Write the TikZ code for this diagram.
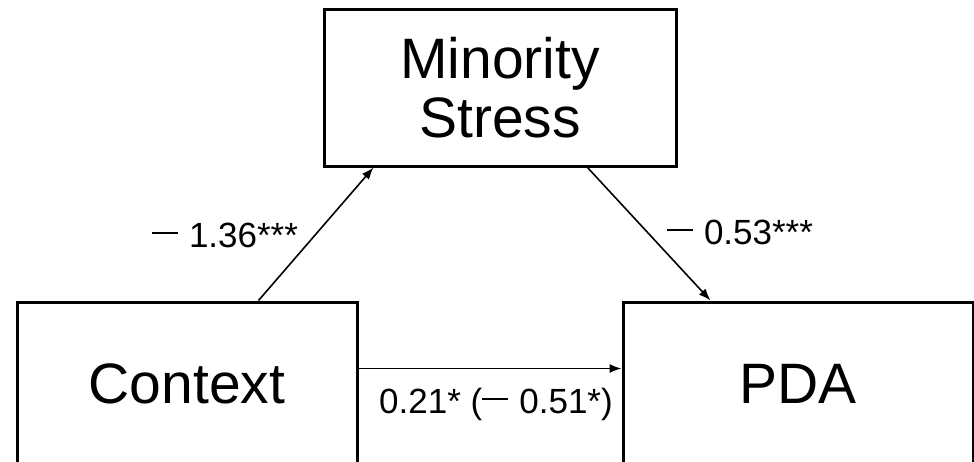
\documentclass[tikz,border=0pt]{standalone}
\usepackage{fontspec}
\setmainfont{Liberation Sans}
\usetikzlibrary{arrows.meta}
\newcommand{\coefdash}{\raisebox{13pt}{\rule{26pt}{2.4pt}}\hspace{11pt}}
\tikzset{
  varbox/.style={draw, line width=3pt, inner sep=0pt, align=center,
    font=\fontsize{57}{59}\selectfont},
  path/.style={line width=1.6pt, -{Latex[length=12pt,width=9pt]}},
  coef/.style={inner sep=0pt, anchor=base, font=\fontsize{35}{40}\selectfont}
}
\begin{document}
\begin{tikzpicture}[x=1pt,y=-1pt]
\useasboundingbox (0,0) rectangle (974,461);
\clip (0,0) rectangle (974,461);
\node[varbox, minimum width=352pt, minimum height=157pt] (ms) at (500,87.5) {Minority\\Stress};
\node[varbox, minimum width=340pt, minimum height=164pt] (ctx) at (187,384) {Context};
\node[varbox, minimum width=350pt, minimum height=164pt] (pda) at (798,384) {PDA};
\draw[path] ([xshift=243pt]ctx.north west) -- ([xshift=51pt]ms.south west);
\draw[path] ([xshift=-90pt]ms.south east) -- ([xshift=89pt]pda.north west);
\draw[path] ([yshift=-68pt]ctx.north east) -- ([yshift=-68pt]pda.north west);
\node[coef] (a) at (225,247) {\coefdash 1.36***};
\node[coef] (b) at (740,244) {\coefdash 0.53***};
\node[coef] (c) at (496,413) {0.21* (\coefdash 0.51*)};
\end{tikzpicture}
\end{document}
